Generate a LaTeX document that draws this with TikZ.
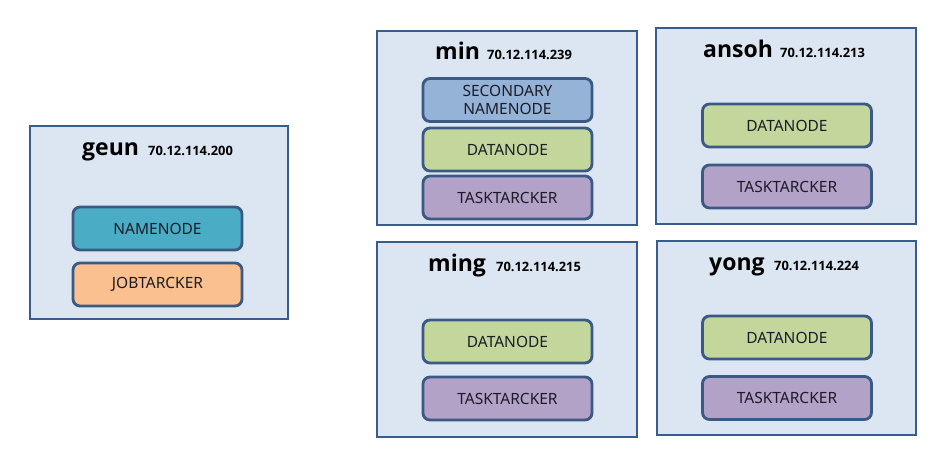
\documentclass[tikz,border=0pt]{standalone}
\usepackage{fontspec}
\setmainfont{Noto Sans}
\newfontfamily\titlefont{Open Sans}
\definecolor{hostfill}{HTML}{DCE6F2}
\definecolor{hostline}{HTML}{385D8A}
\definecolor{boxline}{HTML}{3A5A84}
\definecolor{nnfill}{HTML}{4BACC6}
\definecolor{jtfill}{HTML}{FAC090}
\definecolor{snnfill}{HTML}{95B3D7}
\definecolor{dnfill}{HTML}{C3D69B}
\definecolor{ttfill}{HTML}{B3A2C7}
\definecolor{txt}{HTML}{1C1C28}
\tikzset{
  host/.style={draw=hostline, fill=hostfill, line width=2.4pt, minimum width=#1, inner sep=0pt},
  hostname/.style={anchor=base west, inner sep=0pt, font=\titlefont\fontsize{23}{25}\selectfont\bfseries, text=black},
  hostip/.style={anchor=base west, inner sep=0pt, font=\titlefont\fontsize{12.9}{14}\selectfont\bfseries, text=black},
  svc/.style={draw=boxline, line width=2.8pt, rounded corners=7pt, minimum width=169pt, minimum height=43pt,
    inner sep=0pt, align=center, text=txt, font=\fontsize{15.5}{18.5}\selectfont},
}
\begin{document}
\begin{tikzpicture}[x=1pt,y=-1pt]
\useasboundingbox (0,0) rectangle (948,465);
% host boxes
\node[host=258pt, minimum height=193pt] (geun) at (159,222.5) {};
\node[host=260pt, minimum height=194pt] (min) at (507,128) {};
\node[host=260pt, minimum height=196pt] (ansoh) at (786,126) {};
\node[host=260pt, minimum height=195pt] (ming) at (507,339.5) {};
\node[host=259pt, minimum height=194pt] (yong) at (786.5,338) {};
% titles
\node[hostname] (geunN) at (82,155.5) {geun};
\node[hostip] (geunIP) at (148,155.5) {70.12.114.200};
\node[hostname] (minN) at (435,60) {min};
\node[hostip] (minIP) at (487,60) {70.12.114.239};
\node[hostname] (ansohN) at (703,58) {ansoh};
\node[hostip] (ansohIP) at (780,58) {70.12.114.213};
\node[hostname] (mingN) at (428,272) {ming};
\node[hostip] (mingIP) at (496,272) {70.12.114.215};
\node[hostname] (yongN) at (709,271) {yong};
\node[hostip] (yongIP) at (774,271) {70.12.114.224};
% services
\node[svc, fill=nnfill] (nn) at (157.5,228.5) {NAMENODE};
\node[svc, fill=jtfill] (jt) at (157.5,284.5) {JOBTARCKER};
\node[svc, fill=snnfill] (snn) at (507.5,100) {SECONDARY\\NAMENODE};
\node[svc, fill=dnfill] (dn1) at (507.5,149.5) {DATANODE};
\node[svc, fill=ttfill] (tt1) at (507.5,197.5) {TASKTARCKER};
\node[svc, fill=dnfill] (dn2) at (787,125.5) {DATANODE};
\node[svc, fill=ttfill] (tt2) at (787,186.5) {TASKTARCKER};
\node[svc, fill=dnfill] (dn3) at (507.5,341.5) {DATANODE};
\node[svc, fill=ttfill] (tt3) at (507.5,398.5) {TASKTARCKER};
\node[svc, fill=dnfill] (dn4) at (787,337.5) {DATANODE};
\node[svc, fill=ttfill] (tt4) at (787,398) {TASKTARCKER};
\end{tikzpicture}
\end{document}
